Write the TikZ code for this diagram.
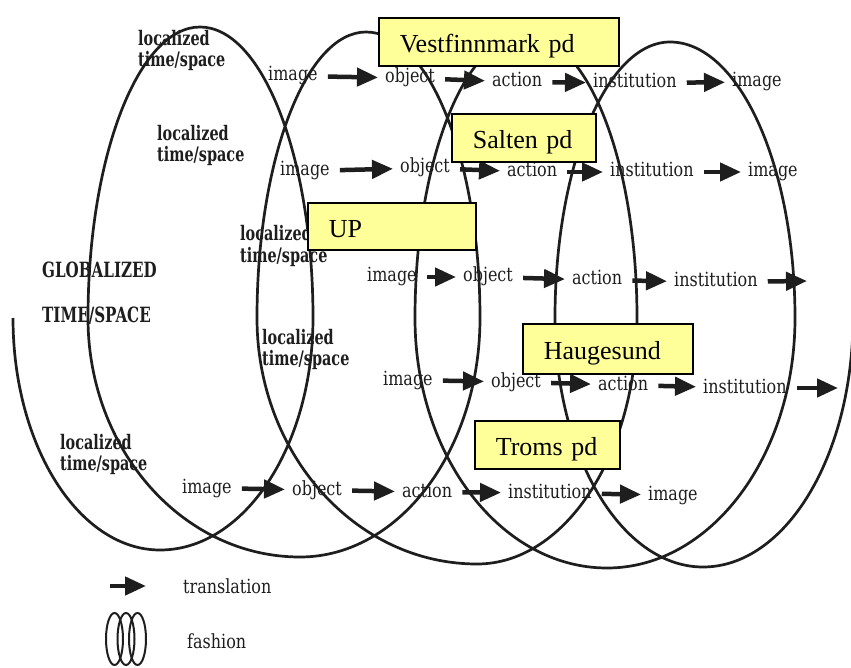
\documentclass[tikz,border=0pt]{standalone}
\usepackage{fontspec}
\usepackage{tikz}
\usetikzlibrary{arrows.meta}
\setmainfont{DejaVu Serif}
\newfontfamily\wordfont[FakeStretch=0.82]{DejaVu Serif}
\newfontfamily\placefont[FakeStretch=0.72]{DejaVu Serif}
\newfontfamily\boxfont{Liberation Serif}
\definecolor{ink}{HTML}{1E1E1E}
\definecolor{padyellow}{HTML}{FFFF99}

\begin{document}
\begin{tikzpicture}[x=1pt,y=1pt,
  coil/.style={draw=ink,line width=2.7pt},
  word/.style={font=\wordfont\fontsize{19.5}{22}\selectfont,text=ink,inner sep=0pt,text height=12pt,text depth=2pt,anchor=base west},
  place/.style={font=\placefont\bfseries\fontsize{20}{21}\selectfont,text=ink,inner sep=0pt,align=left,anchor=base west},
  globe/.style={font=\placefont\bfseries\fontsize{21}{23}\selectfont,text=ink,inner sep=0pt,anchor=base west},
  trans/.style={draw=ink,line width=4.5pt,-{Triangle[length=21pt 0,width=18pt 0]},shorten <=10pt,shorten >=7pt},
  pd/.style={draw=black,line width=1.6pt,fill=padyellow,anchor=north west,inner xsep=21pt,inner ysep=0pt,align=left,minimum height=48pt,text height=22pt,text depth=0pt,font=\boxfont\fontsize{26}{28}\selectfont}]
\useasboundingbox (0,0) rectangle (851,-668);
\fill[white] (0,0) rectangle (851,-668);
\draw[coil] (13,-318)
  arc[start angle=180,end angle=270,x radius=147,y radius=232]
  arc[start angle=270,end angle=360,x radius=153,y radius=232]
  arc[start angle=0,end angle=90,x radius=113,y radius=291]
  arc[start angle=90,end angle=180,x radius=112,y radius=291]
  arc[start angle=180,end angle=270,x radius=212,y radius=239]
  arc[start angle=270,end angle=360,x radius=180,y radius=239]
  arc[start angle=0,end angle=90,x radius=114,y radius=286]
  arc[start angle=90,end angle=180,x radius=109,y radius=286]
  arc[start angle=180,end angle=270,x radius=220,y radius=246]
  arc[start angle=270,end angle=360,x radius=160,y radius=246]
  arc[start angle=0,end angle=90,x radius=111,y radius=283]
  arc[start angle=90,end angle=180,x radius=111,y radius=283]
  arc[start angle=180,end angle=270,x radius=192,y radius=250]
  arc[start angle=270,end angle=360,x radius=188,y radius=250]
  arc[start angle=0,end angle=90,x radius=125,y radius=276]
  arc[start angle=90,end angle=180,x radius=115,y radius=276]
  arc[start angle=180,end angle=270,x radius=148,y radius=249]
  arc[start angle=270,end angle=355,x radius=150,y radius=249];

\node[globe] (glob) at (42,-278) {GLOBALIZED};
\node[globe] (globts) at (42,-323) {TIME/SPACE};

\node[place] (loc1) at (138,-67) {localized\\time/space};
\node[word] (img1) at (268,-81) {image};
\node[word] (obj1) at (385,-83) {object};
\node[word] (act1) at (492,-87) {action};
\node[word] (ins1) at (593,-88) {institution};
\node[word] (imgb1) at (732,-87) {image};
\draw[trans] (img1) -- (obj1);
\draw[trans] (obj1) -- (act1);
\draw[trans] (act1) -- (ins1);
\draw[trans] (ins1) -- (imgb1);

\node[place] (loc2) at (157,-162) {localized\\time/space};
\node[word] (img2) at (280,-176) {image};
\node[word] (obj2) at (400,-173) {object};
\node[word] (act2) at (507,-177) {action};
\node[word] (ins2) at (610,-177) {institution};
\node[word] (imgb2) at (748,-177) {image};
\draw[trans] (img2) -- (obj2);
\draw[trans] (obj2) -- (act2);
\draw[trans] (act2) -- (ins2);
\draw[trans] (ins2) -- (imgb2);

\node[place] (loc3) at (240,-262) {localized\\time/space};
\node[word] (img3) at (367,-282) {image};
\node[word] (obj3) at (463,-282) {object};
\node[word] (act3) at (572,-285) {action};
\node[word] (ins3) at (674,-287) {institution};
\coordinate (end3) at (807,-281);
\draw[trans] (img3) -- (obj3);
\draw[trans] (obj3) -- (act3);
\draw[trans] (act3) -- (ins3);
\draw[trans,shorten >=0pt] (ins3) -- (end3);

\node[place] (loc4) at (262,-365) {localized\\time/space};
\node[word] (img4) at (383,-385) {image};
\node[word] (obj4) at (491,-387) {object};
\node[word] (act4) at (598,-390) {action};
\node[word] (ins4) at (703,-393) {institution};
\coordinate (end4) at (838,-388);
\draw[trans] (img4) -- (obj4);
\draw[trans] (obj4) -- (act4);
\draw[trans] (act4) -- (ins4);
\draw[trans,shorten >=0pt] (ins4) -- (end4);

\node[place] (loc5) at (60,-470) {localized\\time/space};
\node[word] (img5) at (182,-493) {image};
\node[word] (obj5) at (292,-495) {object};
\node[word] (act5) at (402,-497) {action};
\node[word] (ins5) at (508,-498) {institution};
\node[word] (imgb5) at (648,-500) {image};
\draw[trans] (img5) -- (obj5);
\draw[trans] (obj5) -- (act5);
\draw[trans] (act5) -- (ins5);
\draw[trans] (ins5) -- (imgb5);

\coordinate (legtail) at (110,-586);
\coordinate (leghead) at (146,-586);
\draw[trans,shorten <=0pt,shorten >=0pt] (legtail) -- (leghead);
\node[word] (legtrans) at (183,-593) {translation};
\draw[coil,line width=2pt] (114.5,-639) ellipse[x radius=8.5,y radius=26];
\draw[coil,line width=2pt] (126,-639) ellipse[x radius=8.5,y radius=26];
\draw[coil,line width=2pt] (137.5,-639) ellipse[x radius=8.5,y radius=26];
\node[word] (legfash) at (187,-648) {fashion};

\node[pd,text width=198pt] (vest) at (378,-17) {Vestfinnmark pd};
\node[pd,text width=102pt] (salten) at (451,-113) {Salten pd};
\node[pd,text width=126pt,minimum height=47pt] (up) at (307,-202) {UP};
\node[pd,text width=128pt,minimum height=50pt] (haug) at (522,-323) {Haugesund};
\node[pd,text width=103pt] (troms) at (474,-420) {Troms pd};
\end{tikzpicture}
\end{document}
